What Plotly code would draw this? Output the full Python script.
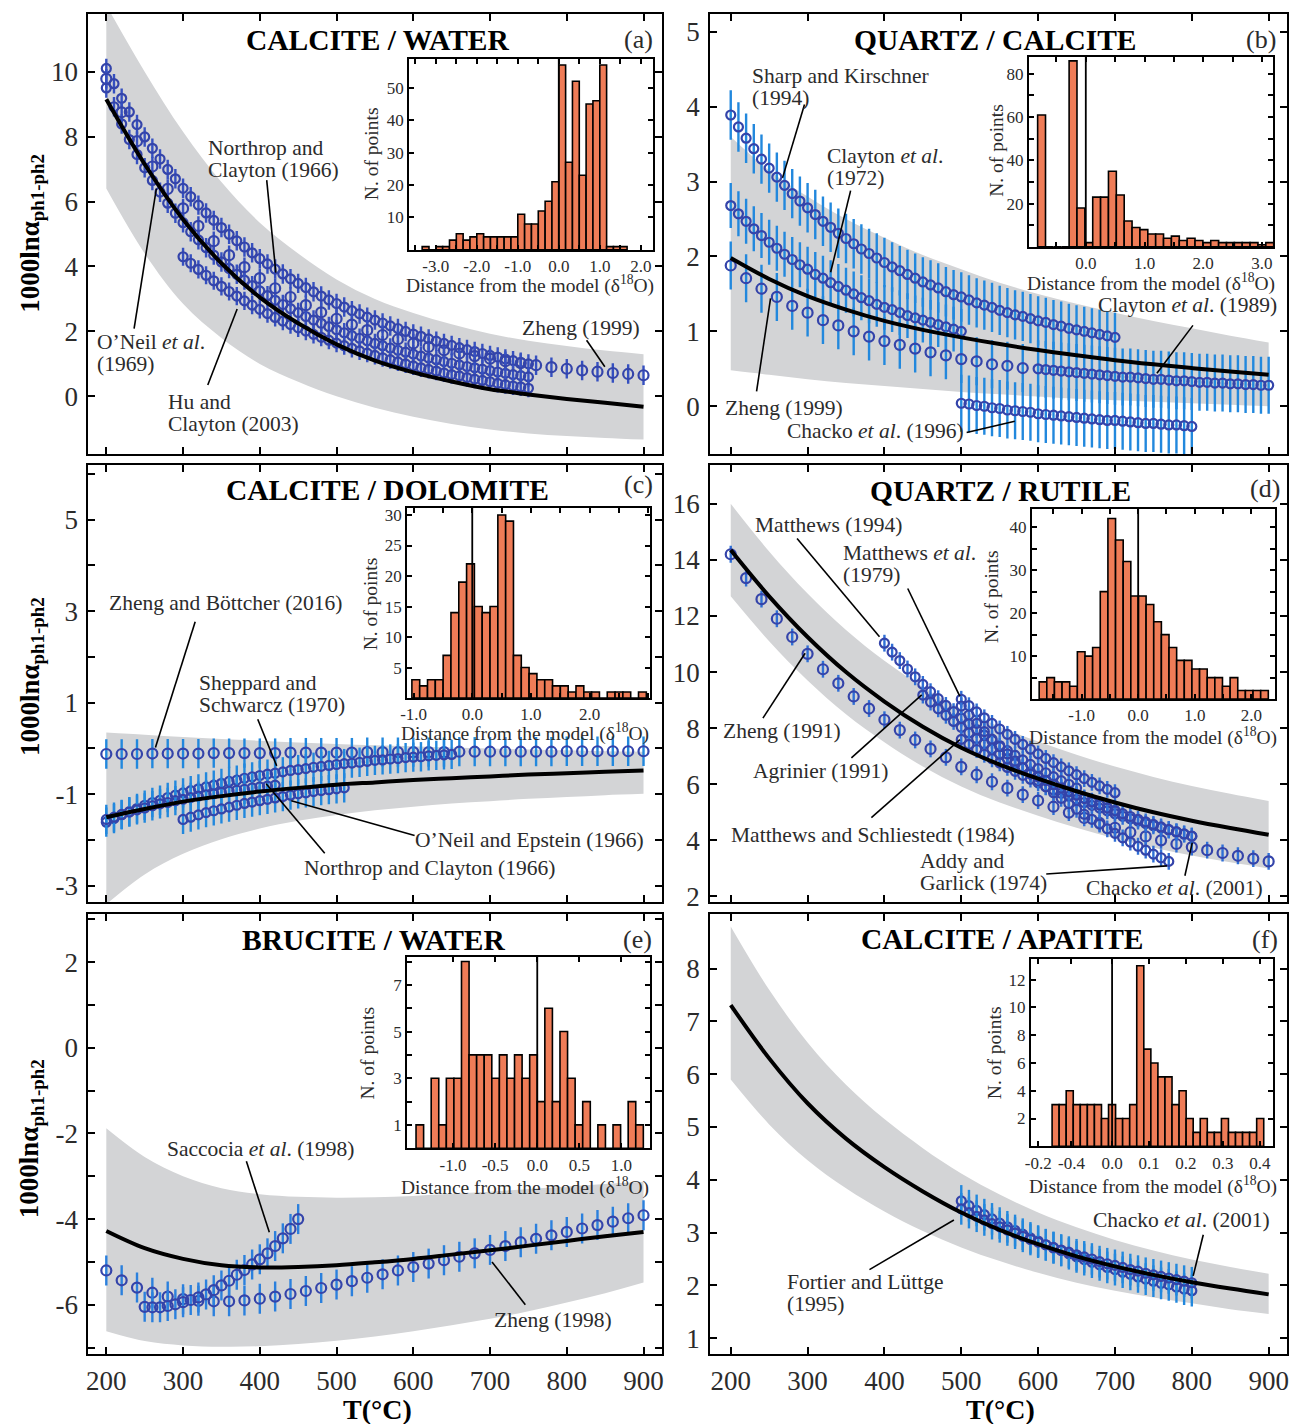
import plotly.graph_objects as go

W, H = 1292, 1424
SERIF = "Liberation Serif, Times New Roman, Times, serif"
DARK = "#3444aa"
ORANGE = "#ef7c57"
GREY = "#d3d4d6"
TXT = "#2b2b2b"

# ------------------------------------------------------------------ data
T_MODEL = [200, 250, 300, 350, 400, 450, 500, 550, 600, 650, 700, 750, 800, 850, 900]
T_TICKS = [200, 300, 400, 500, 600, 700, 800, 900]

# (a) calcite / water
a_model = [9.15, 7.15, 5.45, 4.1, 3.05, 2.25, 1.6, 1.1, 0.74, 0.46, 0.22, 0.06, -0.08, -0.2, -0.32]
a_upper = [12.05, 10.0, 8.15, 6.6, 5.35, 4.4, 3.6, 3.0, 2.57, 2.22, 1.93, 1.71, 1.55, 1.41, 1.3]
a_lower = [6.4, 4.4, 2.85, 1.8, 1.0, 0.45, 0.0, -0.35, -0.63, -0.85, -1.02, -1.14, -1.22, -1.28, -1.33]
a_nc_T = list(range(200, 751, 10))
a_nc = [10.10, 9.63, 9.18, 8.76, 8.37, 7.99, 7.64, 7.31, 6.99, 6.70,
        6.41, 6.15, 5.89, 5.65, 5.42, 5.20, 4.99, 4.79, 4.60, 4.42,
        4.24, 4.08, 3.92, 3.77, 3.62, 3.48, 3.35, 3.22, 3.09, 2.97,
        2.86, 2.75, 2.64, 2.54, 2.44, 2.35, 2.26, 2.17, 2.09, 2.00,
        1.92, 1.85, 1.77, 1.70, 1.63, 1.57, 1.50, 1.44, 1.38, 1.32,
        1.26, 1.21, 1.15, 1.10, 1.05, 1.00]
a_on_T = list(range(200, 751, 10))
a_on = [9.50, 8.92, 8.39, 7.91, 7.45, 7.04, 6.65, 6.29, 5.95, 5.64,
        5.35, 5.07, 4.82, 4.58, 4.35, 4.14, 3.94, 3.76, 3.58, 3.41,
        3.25, 3.10, 2.96, 2.83, 2.70, 2.58, 2.46, 2.35, 2.25, 2.15,
        2.05, 1.96, 1.87, 1.79, 1.71, 1.63, 1.56, 1.49, 1.42, 1.36,
        1.30, 1.24, 1.18, 1.13, 1.07, 1.02, 0.97, 0.92, 0.88, 0.84,
        0.79, 0.75, 0.71, 0.67, 0.64, 0.60]
a_hu_T = list(range(300, 751, 10))
a_hu = [4.30, 4.10, 3.91, 3.73, 3.56, 3.39, 3.23, 3.09, 2.94, 2.81,
        2.68, 2.55, 2.43, 2.32, 2.21, 2.11, 2.01, 1.91, 1.82, 1.73,
        1.64, 1.56, 1.48, 1.40, 1.33, 1.26, 1.19, 1.13, 1.06, 1.00,
        0.94, 0.88, 0.83, 0.78, 0.72, 0.67, 0.63, 0.58, 0.53, 0.49,
        0.45, 0.40, 0.36, 0.32, 0.29, 0.25]
a_zh_T = list(range(200, 901, 20))
a_zh = [9.78, 8.75, 7.86, 7.08, 6.39, 5.79, 5.25, 4.78, 4.35, 3.98,
        3.64, 3.33, 3.06, 2.81, 2.59, 2.39, 2.21, 2.04, 1.89, 1.76,
        1.63, 1.52, 1.42, 1.32, 1.24, 1.16, 1.08, 1.02, 0.96, 0.90,
        0.85, 0.80, 0.76, 0.72, 0.69, 0.65]

# (b) quartz / calcite
b_model = [1.98, 1.70, 1.47, 1.29, 1.14, 1.02, 0.92, 0.83, 0.75, 0.68, 0.615, 0.56, 0.51, 0.465, 0.42]
b_upper = [3.6, 3.15, 2.8, 2.5, 2.25, 2.02, 1.83, 1.65, 1.5, 1.37, 1.25, 1.14, 1.04, 0.94, 0.85]
b_lower = [0.48, 0.42, 0.36, 0.31, 0.27, 0.23, 0.19, 0.16, 0.13, 0.10, 0.08, 0.06, 0.04, 0.02, 0.0]
b_sk_T = list(range(200, 701, 10))
b_sk = [3.89, 3.73, 3.58, 3.44, 3.30, 3.18, 3.06, 2.95, 2.84, 2.74,
        2.65, 2.56, 2.47, 2.39, 2.31, 2.24, 2.17, 2.10, 2.04, 1.98,
        1.92, 1.86, 1.81, 1.76, 1.71, 1.66, 1.62, 1.58, 1.53, 1.49,
        1.46, 1.42, 1.38, 1.35, 1.32, 1.28, 1.25, 1.22, 1.20, 1.17,
        1.14, 1.12, 1.09, 1.07, 1.04, 1.02, 1.00, 0.98, 0.96, 0.94,
        0.92]
b_c72_T = list(range(200, 501, 10))
b_c72 = [2.68, 2.57, 2.47, 2.37, 2.28, 2.19, 2.11, 2.03, 1.96, 1.89,
         1.83, 1.76, 1.71, 1.65, 1.60, 1.55, 1.50, 1.45, 1.41, 1.36,
         1.32, 1.29, 1.25, 1.21, 1.18, 1.15, 1.12, 1.09, 1.06, 1.03,
         1.00]
b_c89_T = list(range(600, 901, 10))
b_c89 = [0.50, 0.49, 0.48, 0.47, 0.46, 0.45, 0.44, 0.43, 0.42, 0.41,
         0.40, 0.39, 0.39, 0.38, 0.37, 0.36, 0.36, 0.35, 0.34, 0.34,
         0.33, 0.32, 0.32, 0.31, 0.31, 0.30, 0.30, 0.29, 0.29, 0.28,
         0.28]
b_ch_T = list(range(500, 801, 10))
b_ch = [0.04, 0.03, 0.01, 0.00, -0.02, -0.03, -0.05, -0.06, -0.07, -0.08,
        -0.10, -0.11, -0.12, -0.13, -0.14, -0.15, -0.16, -0.17, -0.18, -0.19,
        -0.19, -0.20, -0.21, -0.22, -0.23, -0.23, -0.24, -0.25, -0.25, -0.26,
        -0.27]
b_zh_T = list(range(200, 581, 20))
b_zh = [1.88, 1.71, 1.57, 1.46, 1.34, 1.25, 1.15, 1.08, 1.00, 0.93,
        0.87, 0.82, 0.77, 0.72, 0.68, 0.63, 0.60, 0.56, 0.54, 0.51]

# (c) calcite / dolomite
c_model = [-1.5, -1.32, -1.16, -1.04, -0.94, -0.86, -0.79, -0.74, -0.69, -0.65, -0.61, -0.57, -0.54, -0.51, -0.48]
c_upper = [0.35, 0.3, 0.25, 0.21, 0.17, 0.13, 0.1, 0.07, 0.05, 0.02, 0.0, -0.02, -0.04, -0.06, -0.07]
c_lower = [-3.4, -2.75, -2.3, -1.98, -1.75, -1.58, -1.45, -1.35, -1.27, -1.2, -1.15, -1.1, -1.06, -1.02, -0.99]
c_ss_T = list(range(200, 651, 10))
c_ss = [-1.61, -1.53, -1.45, -1.38, -1.31, -1.24, -1.18, -1.13, -1.07, -1.02,
        -0.97, -0.92, -0.88, -0.84, -0.80, -0.76, -0.72, -0.69, -0.65, -0.62,
        -0.59, -0.56, -0.54, -0.51, -0.48, -0.46, -0.44, -0.41, -0.39, -0.37,
        -0.35, -0.33, -0.32, -0.30, -0.28, -0.26, -0.25, -0.23, -0.22, -0.20,
        -0.19, -0.18, -0.16, -0.15, -0.14, -0.13]
c_nc_T = list(range(200, 421, 10))
c_nc = [-1.55, -1.50, -1.44, -1.39, -1.34, -1.30, -1.25, -1.21, -1.18, -1.14,
        -1.11, -1.07, -1.04, -1.01, -0.99, -0.96, -0.93, -0.91, -0.89, -0.86,
        -0.84, -0.82, -0.80]
c_oe_T = list(range(300, 511, 10))
c_oe = [-1.55, -1.50, -1.45, -1.40, -1.36, -1.32, -1.28, -1.24, -1.20, -1.17,
        -1.14, -1.11, -1.08, -1.05, -1.02, -0.99, -0.97, -0.94, -0.92, -0.90,
        -0.88, -0.86]
c_zb_T = list(range(200, 901, 20))
c_zb = [-0.12, -0.12, -0.12, -0.11, -0.11, -0.11, -0.11, -0.10, -0.10, -0.10,
        -0.10, -0.10, -0.09, -0.09, -0.09, -0.09, -0.09, -0.08, -0.08, -0.08,
        -0.08, -0.08, -0.08, -0.07, -0.07, -0.07, -0.07, -0.07, -0.07, -0.07,
        -0.06, -0.06, -0.06, -0.06, -0.06, -0.06]

# (d) quartz / rutile
d_model = [14.35, 12.7, 11.25, 10.0, 8.95, 8.05, 7.3, 6.7, 6.2, 5.75, 5.35, 5.0, 4.7, 4.44, 4.2]
d_upper = [16.0, 14.3, 12.8, 11.5, 10.4, 9.47, 8.68, 8.05, 7.52, 7.05, 6.63, 6.26, 5.94, 5.66, 5.4]
d_lower = [12.7, 11.1, 9.7, 8.5, 7.5, 6.63, 5.92, 5.35, 4.88, 4.45, 4.07, 3.74, 3.46, 3.22, 3.0]
d_m94_T = list(range(400, 651, 10))
d_m94 = [11.03, 10.71, 10.41, 10.11, 9.83, 9.56, 9.30, 9.05, 8.81, 8.59,
         8.36, 8.15, 7.95, 7.75, 7.56, 7.38, 7.20, 7.03, 6.87, 6.71,
         6.56, 6.41, 6.27, 6.13, 6.00, 5.87]
d_agr_T = list(range(450, 701, 10))
d_agr = [9.18, 8.93, 8.69, 8.46, 8.24, 8.03, 7.83, 7.63, 7.44, 7.26,
         7.08, 6.91, 6.75, 6.59, 6.44, 6.30, 6.15, 6.02, 5.88, 5.76,
         5.63, 5.51, 5.40, 5.28, 5.17, 5.07]
d_m79_T = list(range(500, 701, 10))
d_m79 = [9.03, 8.80, 8.58, 8.37, 8.17, 7.97, 7.78, 7.60, 7.42, 7.25,
         7.08, 6.92, 6.77, 6.62, 6.48, 6.34, 6.20, 6.07, 5.94, 5.82,
         5.70]
d_ms_T = list(range(500, 801, 10))
d_ms = [7.60, 7.42, 7.24, 7.07, 6.91, 6.76, 6.60, 6.46, 6.32, 6.18,
        6.05, 5.92, 5.80, 5.68, 5.57, 5.46, 5.35, 5.25, 5.15, 5.05,
        4.95, 4.86, 4.77, 4.69, 4.60, 4.52, 4.44, 4.37, 4.29, 4.22,
        4.15]
d_ag_T = list(range(500, 771, 10))
d_ag = [8.79, 8.47, 8.17, 7.88, 7.61, 7.34, 7.08, 6.83, 6.59, 6.36,
        6.13, 5.91, 5.70, 5.50, 5.31, 5.11, 4.93, 4.75, 4.58, 4.41,
        4.25, 4.09, 3.94, 3.79, 3.65, 3.51, 3.38, 3.25]
d_ch_T = list(range(600, 801, 10))
d_ch = [6.27, 6.13, 5.99, 5.86, 5.73, 5.61, 5.49, 5.37, 5.26, 5.15,
        5.05, 4.95, 4.85, 4.75, 4.66, 4.57, 4.48, 4.39, 4.31, 4.23,
        4.15]
d_zh_T = list(range(200, 901, 20))
d_zh = [14.2, 13.35, 12.6, 11.9, 11.25, 10.65, 10.1, 9.6, 9.13, 8.7,
        8.3, 7.93, 7.58, 7.26, 6.96, 6.62, 6.34, 6.09, 5.86, 5.63,
        5.42, 5.2, 4.99, 4.8, 4.62, 4.45, 4.29, 4.14, 4.0, 3.87,
        3.76, 3.65, 3.55, 3.45, 3.35, 3.25]

# (e) brucite / water
e_model = [-4.28, -4.68, -4.93, -5.08, -5.13, -5.12, -5.08, -5.01, -4.93, -4.83, -4.73, -4.62, -4.51, -4.4, -4.3]
e_upper = [-1.88, -2.55, -3.0, -3.28, -3.42, -3.48, -3.5, -3.49, -3.46, -3.41, -3.36, -3.3, -3.24, -3.18, -3.13]
e_lower = [-6.62, -6.85, -6.95, -6.98, -6.97, -6.92, -6.84, -6.74, -6.62, -6.48, -6.33, -6.15, -5.95, -5.73, -5.48]
e_sac_T = list(range(250, 451, 10))
e_sac = [-6.05, -6.06, -6.06, -6.03, -5.99, -5.94, -5.89, -5.83, -5.76, -5.66,
         -5.55, -5.44, -5.30, -5.19, -5.06, -4.94, -4.80, -4.63, -4.45, -4.23,
         -4.00]
e_zh_T = list(range(200, 901, 20))
e_zh = [-5.20, -5.43, -5.60, -5.72, -5.81, -5.87, -5.91, -5.92, -5.92, -5.90,
        -5.86, -5.81, -5.75, -5.68, -5.61, -5.53, -5.45, -5.37, -5.29, -5.20,
        -5.12, -5.04, -4.96, -4.88, -4.80, -4.72, -4.63, -4.54, -4.46, -4.38,
        -4.30, -4.22, -4.14, -4.06, -3.98, -3.91]

# (f) calcite / apatite
f_model = [7.31, 6.3, 5.45, 4.78, 4.24, 3.78, 3.38, 3.05, 2.78, 2.55, 2.36, 2.2, 2.06, 1.94, 1.83]
f_upper = [8.8, 7.6, 6.6, 5.8, 5.15, 4.6, 4.12, 3.72, 3.38, 3.1, 2.86, 2.66, 2.49, 2.35, 2.22]
f_lower = [5.9, 5.05, 4.37, 3.84, 3.4, 3.03, 2.72, 2.46, 2.24, 2.05, 1.9, 1.77, 1.66, 1.55, 1.46]
f_fl_T = list(range(500, 801, 10))
f_fl = [3.60, 3.51, 3.42, 3.34, 3.26, 3.18, 3.11, 3.04, 2.97, 2.90,
        2.84, 2.77, 2.71, 2.66, 2.60, 2.54, 2.49, 2.44, 2.39, 2.34,
        2.30, 2.25, 2.21, 2.16, 2.12, 2.08, 2.04, 2.01, 1.97, 1.93,
        1.90]
f_ch_T = list(range(500, 801, 10))
f_ch = [3.45, 3.38, 3.31, 3.24, 3.17, 3.11, 3.05, 2.99, 2.93, 2.87,
        2.82, 2.77, 2.72, 2.67, 2.63, 2.58, 2.54, 2.50, 2.45, 2.41,
        2.38, 2.34, 2.30, 2.27, 2.23, 2.20, 2.17, 2.14, 2.11, 2.08,
        2.05]

# histograms (first bin edge, bin width, counts)
h_a_start, h_a_width = -3.3333, 0.16667
h_a = [1, 0, 1, 1, 3, 5, 3, 4, 5, 4, 4, 4, 4, 4, 11, 8, 8, 12, 15, 21, 57, 27, 52, 23, 45, 46, 57, 1, 1, 1]
h_b_start, h_b_width = -0.82, 0.134
h_b = [61, 0, 0, 0, 86, 18, 2, 23, 23, 35, 24, 12, 9, 8, 6, 6, 4, 5, 3, 4, 3, 2, 3, 2, 2, 2, 2, 2, 1, 2]
h_c_start, h_c_width = -1.03, 0.1333
h_c = [3, 2, 3, 3, 7, 14, 19, 22, 15, 14, 15, 30, 29, 7, 5, 4, 3, 3, 2, 2, 1, 2, 1, 1, 0, 1, 1, 1, 0, 1]
h_d_start, h_d_width = -1.75, 0.135
h_d = [4, 5, 4, 4, 3, 11, 10, 12, 25, 42, 37, 32, 24, 24, 22, 18, 15, 12, 9, 9, 7, 7, 5, 5, 3, 5, 2, 2, 2, 2]
h_e_start, h_e_width = -1.44, 0.09
h_e = [1, 0, 3, 1, 3, 3, 8, 4, 4, 4, 3, 4, 3, 4, 3, 4, 2, 6, 2, 5, 3, 1, 2, 0, 1, 0, 1, 0, 2, 1]
h_f_start, h_f_width = -0.1624, 0.0191
h_f = [3, 3, 4, 3, 3, 3, 3, 2, 3, 2, 2, 3, 13, 7, 6, 5, 5, 3, 4, 2, 1, 2, 1, 1, 2, 1, 1, 1, 1, 2]

# ------------------------------------------------------------------ layout geometry (pixels)
MAIN_BOX = {1: (82, 660, 12, 456), 2: (708, 1289, 12, 456),
            3: (82, 660, 467, 908), 4: (708, 1289, 467, 908),
            5: (82, 660, 920, 1363), 6: (708, 1289, 920, 1363)}
INSET_BOX = {7: (405, 651, 57, 250), 8: (1029, 1275, 55, 247),
             9: (403, 648, 510, 702), 10: (1032, 1277, 511, 703),
             11: (403, 648, 963, 1156), 12: (1031, 1275, 965, 1154)}
XR_LEFT = [176.7, 924.6]
XR_RIGHT = [173.1, 923.9]
Y_RANGES = {1: [-1.78, 11.78], 2: [-0.64, 5.24], 3: [-3.36, 6.19],
            4: [1.79, 17.38], 5: [-7.14, 3.12], 6: [0.71, 9.03]}
# (labelled ticks, unlabelled ticks)
Y_TICKS = {1: ([0, 2, 4, 6, 8, 10], []),
           2: ([0, 1, 2, 3, 4, 5], []),
           3: ([-3, -1, 1, 3, 5], [-2, 0, 2, 4, 6]),
           4: ([2, 4, 6, 8, 10, 12, 14, 16], []),
           5: ([-6, -4, -2, 0, 2], [-7, -5, -3, -1, 1, 3]),
           6: ([1, 2, 3, 4, 5, 6, 7, 8], [])}


def sid(i):
    return "" if i == 1 else str(i)


def xdom(x0, x1):
    return [x0 / W, x1 / W]


def ydom(y0, y1):
    return [1 - y1 / H, 1 - y0 / H]


def lab(v, nd=0):
    return f"{v:.{nd}f}"


fig = go.Figure()


def band(i, up, lo):
    kw = dict(xaxis="x" + sid(i), yaxis="y" + sid(i), hoverinfo="skip", showlegend=False)
    fig.add_trace(go.Scatter(x=T_MODEL, y=lo, mode="lines",
                             line=dict(width=0, shape="spline", color=GREY), **kw))
    fig.add_trace(go.Scatter(x=T_MODEL, y=up, mode="lines", fill="tonexty", fillcolor=GREY,
                             line=dict(width=0, shape="spline", color=GREY), **kw))


def series(i, T, v, err, ecol, size=9, lw=2.2):
    fig.add_trace(go.Scatter(
        x=T, y=v, mode="markers",
        marker=dict(symbol="circle-open", size=size, color=DARK, line=dict(width=lw, color=DARK)),
        error_y=dict(type="constant", value=err, color=ecol, thickness=2.4, width=0),
        xaxis="x" + sid(i), yaxis="y" + sid(i), showlegend=False))


def model(i, v):
    fig.add_trace(go.Scatter(x=T_MODEL, y=v, mode="lines",
                             line=dict(color="black", width=4, shape="spline"),
                             xaxis="x" + sid(i), yaxis="y" + sid(i), showlegend=False))


def hist(j, start, width, counts):
    centers = [start + width * (k + 0.5) for k in range(len(counts))]
    fig.add_trace(go.Bar(x=centers, y=counts, width=width,
                         marker=dict(color=ORANGE, line=dict(color="black", width=1.6)),
                         xaxis="x" + sid(j), yaxis="y" + sid(j), showlegend=False))


# panel a
band(1, a_upper, a_lower)
series(1, a_nc_T, a_nc, 0.3, "#3550c0")
series(1, a_on_T, a_on, 0.3, "#3550c0")
series(1, a_hu_T, a_hu, 0.28, "#3550c0")
series(1, a_zh_T, a_zh, 0.3, "#3550c0", size=10)
model(1, a_model)
# panel b
band(2, b_upper, b_lower)
series(2, b_sk_T, b_sk, 0.33, "#2288dd")
series(2, b_c72_T, b_c72, 0.3, "#2288dd")
series(2, b_c89_T, b_c89, 0.38, "#2288dd")
series(2, b_ch_T, b_ch, 0.38, "#2288dd")
series(2, b_zh_T, b_zh, 0.32, "#2288dd", size=10)
model(2, b_model)
# panel c
band(3, c_upper, c_lower)
series(3, c_zb_T, c_zb, 0.32, "#2288dd", size=10)
series(3, c_ss_T, c_ss, 0.32, "#2288dd")
series(3, c_nc_T, c_nc, 0.32, "#2288dd")
series(3, c_oe_T, c_oe, 0.32, "#2288dd")
model(3, c_model)
# panel d
band(4, d_upper, d_lower)
series(4, d_zh_T, d_zh, 0.3, "#2f6fd6", size=10)
series(4, d_m94_T, d_m94, 0.3, "#2f6fd6")
series(4, d_agr_T, d_agr, 0.3, "#2f6fd6")
series(4, d_m79_T, d_m79, 0.3, "#2f6fd6")
series(4, d_ms_T, d_ms, 0.3, "#2f6fd6")
series(4, d_ag_T, d_ag, 0.3, "#2f6fd6")
series(4, d_ch_T, d_ch, 0.3, "#2f6fd6")
model(4, d_model)
# panel e
band(5, e_upper, e_lower)
series(5, e_zh_T, e_zh, 0.35, "#2b80dd", size=10)
series(5, e_sac_T, e_sac, 0.35, "#2b80dd", size=10)
model(5, e_model)
# panel f
band(6, f_upper, f_lower)
series(6, f_fl_T, f_fl, 0.3, "#2288dd")
series(6, f_ch_T, f_ch, 0.3, "#2288dd")
model(6, f_model)

# histograms
hist(7, h_a_start, h_a_width, h_a)
hist(8, h_b_start, h_b_width, h_b)
hist(9, h_c_start, h_c_width, h_c)
hist(10, h_d_start, h_d_width, h_d)
hist(11, h_e_start, h_e_width, h_e)
hist(12, h_f_start, h_f_width, h_f)

# ------------------------------------------------------------------ axes
layout = dict(width=W, height=H, margin=dict(l=0, r=0, t=0, b=0),
              paper_bgcolor="white", plot_bgcolor="white", showlegend=False,
              barmode="overlay", font=dict(family=SERIF, color=TXT))


def axis_base(size, ticklen=7, minor_vals=None):
    d = dict(showline=True, linecolor="black", linewidth=2, mirror="ticks",
             ticks="inside", ticklen=ticklen, tickwidth=1.5, tickcolor="black",
             showgrid=False, zeroline=False, fixedrange=True,
             tickfont=dict(family=SERIF, size=size, color=TXT))
    if minor_vals:
        d["minor"] = dict(tickmode="array", tickvals=minor_vals, ticks="inside",
                          ticklen=ticklen, tickwidth=1.5, tickcolor="black", showgrid=False)
    return d


for i, (x0, x1, y0, y1) in MAIN_BOX.items():
    s = sid(i)
    xa = axis_base(27)
    bottom = i in (5, 6)
    xa.update(domain=xdom(x0, x1), range=XR_LEFT if i % 2 == 1 else XR_RIGHT,
              anchor="y" + s, tickmode="array", tickvals=T_TICKS,
              ticktext=[str(t) for t in T_TICKS], showticklabels=bottom,
              ticklabelstandoff=2)
    tv, mv = Y_TICKS[i]
    ya = axis_base(27, minor_vals=mv)
    ya.update(domain=ydom(y0, y1), range=Y_RANGES[i], anchor="x" + s,
              tickmode="array", tickvals=tv, ticktext=[lab(v) for v in tv],
              ticklabelstandoff=3)
    layout["xaxis" + s] = xa
    layout["yaxis" + s] = ya

INSET_AX = {
    7: dict(xr=[-3.65, 2.31], xt=[-3.0, -2.0, -1.0, 0.0, 1.0, 2.0], xm=[-3.5, -2.5, -1.5, -0.5, 0.5, 1.5],
            yr=[0, 59], yt=[10, 20, 30, 40, 50], ym=[]),
    8: dict(xr=[-0.97, 3.19], xt=[0.0, 1.0, 2.0, 3.0], xm=[-0.5, 0.5, 1.5, 2.5],
            yr=[0, 88], yt=[20, 40, 60, 80], ym=[10, 30, 50, 70]),
    9: dict(xr=[-1.11, 3.04], xt=[-1.0, 0.0, 1.0, 2.0], xm=[-0.5, 0.5, 1.5, 2.5, 3.0],
            yr=[0, 31.2], yt=[5, 10, 15, 20, 25, 30], ym=[]),
    10: dict(xr=[-1.88, 2.42], xt=[-1.0, 0.0, 1.0, 2.0], xm=[-1.5, -0.5, 0.5, 1.5],
             yr=[0, 44.3], yt=[10, 20, 30, 40], ym=[5, 15, 25, 35]),
    11: dict(xr=[-1.545, 1.345], xt=[-1.0, -0.5, 0.0, 0.5, 1.0], xm=[],
             yr=[0, 8.2], yt=[1, 3, 5, 7], ym=[2, 4, 6, 8]),
    12: dict(xr=[-0.22, 0.436], xt=[-0.2, -0.11, 0.0, 0.1, 0.2, 0.3, 0.4],
             xtext=["-0.2", "-0.4", "0.0", "0.1", "0.2", "0.3", "0.4"], xm=[],
             yr=[0, 13.5], yt=[2, 4, 6, 8, 10, 12], ym=[]),
}

for j, (x0, x1, y0, y1) in INSET_BOX.items():
    s = sid(j)
    cfg = INSET_AX[j]
    xa = axis_base(17, ticklen=5, minor_vals=cfg["xm"])
    xtext = cfg.get("xtext", [lab(v, 1) for v in cfg["xt"]])
    xa.update(domain=xdom(x0, x1), range=cfg["xr"], anchor="y" + s,
              tickmode="array", tickvals=cfg["xt"], ticktext=xtext, ticklabelstandoff=0)
    ya = axis_base(17, ticklen=5, minor_vals=cfg["ym"])
    ya.update(domain=ydom(y0, y1), range=cfg["yr"], anchor="x" + s,
              tickmode="array", tickvals=cfg["yt"], ticktext=[lab(v) for v in cfg["yt"]])
    layout["xaxis" + s] = xa
    layout["yaxis" + s] = ya

fig.update_layout(**layout)

# ------------------------------------------------------------------ shapes
shapes = []
for j in INSET_BOX:
    s = sid(j)
    shapes.append(dict(type="line", xref="x" + s, yref="y" + s + " domain",
                       x0=0, x1=0, y0=0, y1=1, line=dict(color="black", width=1.8)))

LEADERS = {
    1: [(409, 6.66, 420.9, 3.81), (236.2, 2.09, 265.2, 6.4), (332.2, 0.35, 370.5, 2.69),
        (825.8, 1.73, 849.6, 0.91)],
    2: [(296, 4.03, 267.4, 3.05), (356, 2.88, 330, 1.79), (233.6, 0.2, 251.8, 1.44),
        (507, -0.35, 569.6, -0.2), (801.5, 1.08, 754.6, 0.44)],
    3: [(315.8, 2.77, 264, 0.02), (397.3, 0.64, 422, -0.38), (601.7, -1.9, 441, -1.14),
        (484.6, -2.29, 408.3, -0.77)],
    4: [(286.3, 14.76, 393.6, 11.26), (430.3, 12.98, 498.2, 9.13), (241.9, 8.36, 296.8, 10.67),
        (357, 6.94, 448.5, 9.19), (383, 4.81, 498.2, 7.59), (610.6, 2.8, 767.6, 3.09),
        (791, 2.74, 800.6, 3.92)],
    5: [(382.5, -2.65, 412.4, -4.31), (746, -6.0, 702.6, -5.0)],
    6: [(380.5, 2.30, 490.4, 3.24), (814.9, 2.96, 801.8, 2.18)],
}
for i, lines in LEADERS.items():
    s = sid(i)
    for (xa_, ya_, xb_, yb_) in lines:
        shapes.append(dict(type="line", xref="x" + s, yref="y" + s,
                           x0=xa_, y0=ya_, x1=xb_, y1=yb_,
                           line=dict(color="black", width=1.6)))
fig.update_layout(shapes=shapes)

# ------------------------------------------------------------------ annotations
ann = []
LABELS = {
    1: [("Northrop and<br>Clayton (1966)", 329.4, 7.32, "left"),
        ("O’Neil <i>et al</i>.<br>(1969)", 185.8, 1.35, "left"),
        ("Hu and<br>Clayton (2003)", 277.6, -0.51, "left"),
        ("Zheng (1999)", 739.5, 2.12, "left")],
    2: [("Sharp and Kirschner<br>(1994)", 225.7, 4.27, "left"),
        ("Clayton <i>et al</i>.<br>(1972)", 322.1, 3.2, "left"),
        ("Zheng (1999)", 189.3, -0.02, "left"),
        ("Chacko <i>et al</i>. (1996)", 270, -0.33, "left"),
        ("Clayton <i>et al</i>. (1989)", 913, 1.35, "right")],
    3: [("Zheng and Böttcher (2016)", 201.3, 3.18, "left"),
        ("Sheppard and<br>Schwarcz (1970)", 318.5, 1.18, "left"),
        ("O’Neil and Epstein (1966)", 599, -1.99, "left"),
        ("Northrop and Clayton (1966)", 454.6, -2.62, "left")],
    4: [("Matthews (1994)", 228.7, 15.24, "left"),
        ("Matthews <i>et al</i>.<br>(1979)", 344, 13.84, "left"),
        ("Zheng (1991)", 187, 7.89, "left"),
        ("Agrinier (1991)", 226, 6.47, "left"),
        ("Matthews and Schliestedt (1984)", 197.4, 4.19, "left"),
        ("Addy and<br>Garlick (1974)", 443.2, 2.88, "left"),
        ("Chacko <i>et al</i>. (2001)", 660.3, 2.3, "left")],
    5: [("Saccocia <i>et al</i>. (1998)", 276.7, -2.36, "left"),
        ("Zheng (1998)", 702.6, -6.35, "left")],
    6: [("Fortier and Lüttge<br>(1995)", 270.7, 1.85, "left"),
        ("Chacko <i>et al</i>. (2001)", 668.3, 3.23, "left")],
}
LINE_GAP = 22
for i, items in LABELS.items():
    s = sid(i)
    for (txt, x, y, anc) in items:
        parts = txt.split("<br>")
        n = len(parts)
        for k, part in enumerate(parts):
            shift = (n - 1) / 2 * LINE_GAP - k * LINE_GAP
            ann.append(dict(text=part, x=x, y=y, xref="x" + s, yref="y" + s, xanchor=anc,
                            yanchor="middle", align=anc, showarrow=False, yshift=shift,
                            font=dict(family=SERIF, size=21.5, color=TXT)))


def paper_text(txt, px, py, size, angle=0, color="black"):
    ann.append(dict(text=txt, x=px / W, y=1 - py / H, xref="paper", yref="paper",
                    xanchor="center", yanchor="middle", showarrow=False, textangle=angle,
                    font=dict(family=SERIF, size=size, color=color)))


TITLES = [("CALCITE / WATER", 374, 38, "(a)", 636, 38),
          ("QUARTZ / CALCITE", 995, 38, "(b)", 1263, 38),
          ("CALCITE / DOLOMITE", 383, 492, "(c)", 636, 487),
          ("QUARTZ / RUTILE", 1000, 493, "(d)", 1267, 491),
          ("BRUCITE / WATER", 370, 946, "(e)", 635, 945),
          ("CALCITE / APATITE", 1002, 945, "(f)", 1267, 945)]
for (t, tx, ty, lb, lx, ly) in TITLES:
    paper_text("<b>" + t + "</b>", tx, ty, 29.5)
    paper_text(lb, lx, ly, 26, color=TXT)

INSET_TITLES = [(527, 285, 367, 153), (1152, 283, 997, 150), (522, 737, 366, 607),
                (1154, 741, 992, 600), (522, 1195, 363, 1060), (1154, 1194, 994, 1060)]
for (xx, xy, yx, yy) in INSET_TITLES:
    paper_text("Distance from the model (δ<sup>18</sup>O)", xx, xy, 19.5, color=TXT)
    paper_text("N. of points", yx, yy, 19.5, angle=-90, color=TXT)

for cy in (233, 680, 1146):
    paper_text("<b>1000lnα<sub>ph1-ph2</sub></b>", 25, cy, 27, angle=-90)
for cx in (373, 1000):
    paper_text("<b>T(°C)</b>", cx, 1419, 28)

fig.update_layout(annotations=ann)
fig.write_html("out.html",
               config={"displayModeBar": False},
               post_script="document.body.style.margin='0px';"
                           "document.body.style.overflow='hidden';")
